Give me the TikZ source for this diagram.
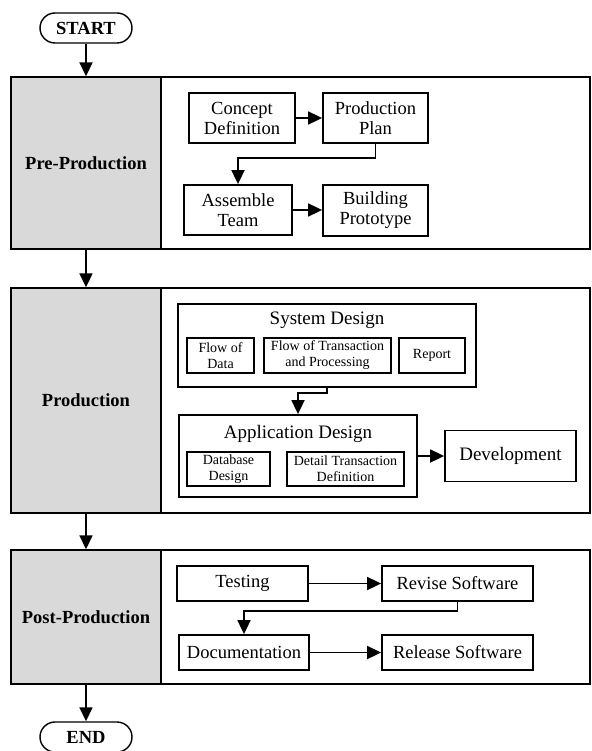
\documentclass[tikz,border=0pt]{standalone}
\usepackage{fontspec}
\setmainfont{Liberation Serif}
\usetikzlibrary{arrows.meta}

\tikzset{
  base/.style={font=\fontsize{18.5}{20}\selectfont, inner sep=0pt, align=center},
  terminal/.style={base, draw, line width=1.4pt, rounded corners=15pt,
    minimum width=92pt, minimum height=30pt, font=\fontsize{18.5}{20}\selectfont\bfseries},
  phase/.style={base, draw, line width=1.4pt, fill=black!15,
    minimum width=150pt, font=\fontsize{18.5}{20}\selectfont\bfseries},
  panel/.style={draw, line width=1.4pt, fill=white, minimum width=429pt, inner sep=0pt},
  stepbox/.style={base, draw, line width=1.8pt, fill=white},
  subbox/.style={base, draw, line width=1.1pt, fill=white,
    font=\fontsize{14}{16}\selectfont},
  grp/.style={draw, line width=1.8pt, fill=white, inner sep=0pt},
  arr/.style={line width=1.8pt, -{Triangle[length=14pt,width=13pt]}},
}

\begin{document}
\begin{tikzpicture}[x=1pt, y=-1pt]
\useasboundingbox (0,0) rectangle (591,751);

% start / end terminals
\node[terminal] (start) at (86,28) {START};
\node[terminal] (finish) at (86,737) {END};

% phase 1: pre-production
\node[phase, minimum height=172pt] (ph1) at (86,163) {Pre-Production};
\node[panel, minimum height=172pt] (pn1) at (375.5,163) {};
\node[stepbox, minimum width=106pt, minimum height=50pt] (cd) at (242,118) {Concept\\Definition};
\node[stepbox, minimum width=105pt, minimum height=50pt] (pp) at (375.5,118) {Production\\Plan};
\node[stepbox, minimum width=108pt, minimum height=50pt] (at) at (238,210) {Assemble\\Team};
\node[stepbox, minimum width=105pt, minimum height=51pt] (bp) at (375.5,210.5) {Building\\Prototype};
\coordinate (k1) at (0,158);
\draw[arr] (cd.east) -- (pp.west |- cd.east);
\draw[arr] (pp.south) -- (pp.south |- k1) -| (at.north);
\draw[arr] (at.east) -- (bp.west |- at.east);

% phase 2: production
\node[phase, minimum height=225pt] (ph2) at (86,400.5) {Production};
\node[panel, minimum height=225pt] (pn2) at (375.5,400.5) {};
\node[grp, minimum width=298pt, minimum height=83pt] (sd) at (327,345.5) {};
\node[base, font=\fontsize{19}{21}\selectfont] (sdt) at (327,320) {System Design};
\node[subbox, minimum width=67pt, minimum height=35pt] (fd) at (220.5,355.5) {Flow of\\Data};
\node[subbox, minimum width=127pt, minimum height=35pt] (ft) at (327.5,355.5) {Flow of Transaction\\and Processing};
\node[subbox, minimum width=66pt, minimum height=35pt] (rp) at (432,355.5) {Report};
\node[grp, minimum width=238pt, minimum height=82pt] (ad) at (298,456) {};
\node[base, font=\fontsize{19}{21}\selectfont] (adt) at (298,434) {Application Design};
\node[subbox, minimum width=83pt, minimum height=34pt] (db) at (228.5,469) {Database\\Design};
\node[subbox, minimum width=117pt, minimum height=34pt] (dt) at (345.5,469) {Detail Transaction\\Definition};
\node[stepbox, minimum width=131pt, minimum height=51pt, font=\fontsize{19}{21}\selectfont] (dev) at (510.5,456) {Development};
\coordinate (k2) at (0,393);
\draw[arr] (sd.south) -- (sd.south |- k2) -| (ad.north);
\draw[arr] (ad.east) -- (dev.west);

% phase 3: post-production
\node[phase, minimum height=134pt] (ph3) at (86,617) {Post-Production};
\node[panel, minimum height=134pt] (pn3) at (375.5,617) {};
\node[stepbox, minimum width=131pt, minimum height=35pt] (te) at (242.5,583.5) {Testing};
\node[stepbox, minimum width=151pt, minimum height=35pt] (rv) at (457.5,583.5) {Revise Software};
\node[stepbox, minimum width=130pt, minimum height=35pt] (doc) at (244,652.5) {Documentation};
\node[stepbox, minimum width=151pt, minimum height=35pt] (rl) at (457.5,652.5) {Release Software};
\coordinate (k3) at (0,611);
\draw[arr] (te.east) -- (rv.west);
\draw[arr] (rv.south) -- (rv.south |- k3) -| (doc.north);
\draw[arr] (doc.east) -- (rl.west);

% flow between phases
\draw[arr] (start.south) -- (ph1.north);
\draw[arr] (ph1.south) -- (ph2.north);
\draw[arr] (ph2.south) -- (ph3.north);
\draw[arr] (ph3.south) -- (finish.north);
\end{tikzpicture}
\end{document}
